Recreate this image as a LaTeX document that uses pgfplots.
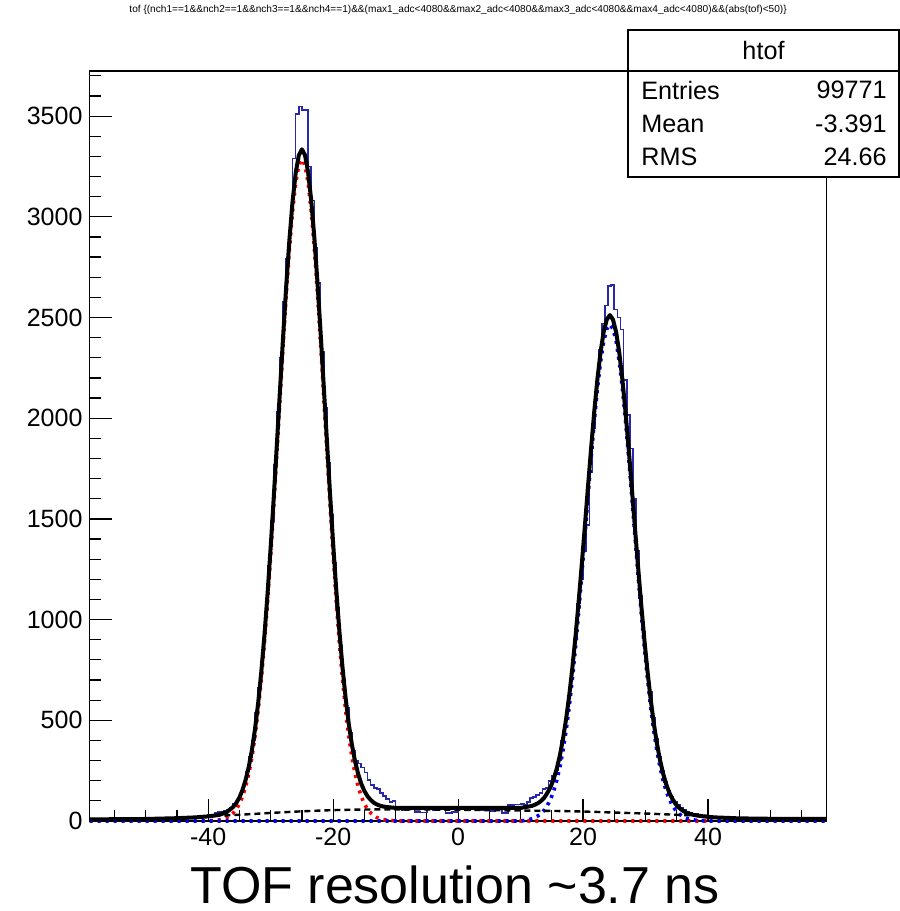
\documentclass[border=0pt]{standalone}
\usepackage{pgfplots}
\pgfplotsset{compat=1.18}
\usepackage{fontspec}
\setmainfont{Liberation Sans}
\definecolor{histblue}{RGB}{40,40,170}
\definecolor{rootred}{RGB}{255,0,0}
\definecolor{rootblue}{RGB}{0,0,255}
\begin{document}
\begin{tikzpicture}
\begin{axis}[
 scale only axis, width=368.6pt, height=375pt,
 xmin=-59, xmax=59, ymin=0, ymax=3724,
 xtick={-40,-20,0,20,40},
 minor xtick={-55,-50,...,55},
 ytick={0,500,...,3500},
 minor ytick={100,200,...,3700},
 tick pos=left, tick align=inside,
 major tick length=11pt, minor tick length=5.5pt,
 every tick/.style={black, line width=0.6pt},
 axis line style={line width=0.6pt},
 /pgf/number format/assume math mode=true,
 /pgf/number format/1000 sep={},
 ticklabel style={font=\fontsize{12.5}{15}\selectfont},
 clip=false,
]
% histogram htof
\addplot[const plot, histblue, line width=0.8pt] coordinates {
(-59,6)(-58,4)(-57,7)(-56,5)(-55,8)(-54,6)(-53,9)(-52,7)(-51,10)(-50,8)(-49,11)(-48,9)(-47,12)(-46,14)(-45,13)(-44,16)(-43,18)(-42,22)(-41,28)
(-40,30)(-39.5,33)(-39,40)(-38.5,44)(-38,47)(-37.5,50)(-37,58)(-36.5,68)(-36,85)(-35.5,101)(-35,132)(-34.5,178)(-34,245)(-33.5,318)(-33,400)(-32.5,536)(-32,662)(-31.5,848)(-31,1030)(-30.5,1265)(-30,1490)(-29.5,1770)(-29,2030)(-28.5,2300)(-28,2580)(-27.5,2790)(-27,2990)(-26.5,3290)(-26,3510)(-25.5,3547)(-25,3530)(-24.5,3530)(-24,3250)(-23.5,3080)(-23,2845)(-22.5,2670)(-22,2330)(-21.5,2050)(-21,1780)(-20.5,1520)(-20,1280)(-19.5,1060)(-19,870)(-18.5,700)(-18,560)(-17.5,440)(-17,350)(-16.5,300)(-16,285)(-15.5,265)(-15,240)(-14.5,205)(-14,180)(-13.5,165)(-13,160)(-12.5,140)(-12,125)(-11.5,110)(-11,95)(-10.5,100)
(-10,60)(-9,55)(-8,60)(-7,45)(-6,42)(-5,58)(-4,55)(-3,60)(-2,40)(-1,45)(0,58)(1,55)(2,60)(3,52)(4,55)(5,50)(6,58)(7,40)(8,80)(9,82)
(10,85)(10.5,80)(11,95)(11.5,115)(12,120)(12.5,130)(13,140)(13.5,160)(14,165)(14.5,200)(15,225)(15.5,250)(16,300)(16.5,400)(17,500)(17.5,610)(18,750)(18.5,905)(19,1080)(19.5,1200)(20,1340)(20.5,1470)(21,1730)(21.5,1950)(22,2160)(22.5,2340)(23,2470)(23.5,2560)(24,2655)(24.5,2660)(25,2540)(25.5,2500)(26,2440)(26.5,2190)(27,2016)(27.5,1850)(28,1600)(28.5,1340)(29,1120)(29.5,940)(30,780)(30.5,640)(31,510)(31.5,410)(32,320)(32.5,250)(33,195)(33.5,150)(34,120)(34.5,95)(35,78)(35.5,65)(36,55)(36.5,48)(37,42)(37.5,38)(38,35)(38.5,32)(39,28)(39.5,25)
(40,18)(41,15)(42,14)(43,12)(44,10)(45,11)(46,9)(47,8)(48,9)(49,7)(50,6)(51,7)(52,5)(53,6)(54,4)(55,5)(56,4)(57,3)(58,4)(59,4)
};
% left gaussian
\addplot[rootred, line width=1.8pt, dash pattern=on 1.5pt off 2.5pt] coordinates {
(-41,0)(-40,1)(-39,3)(-38,7)(-37,17)(-36,40)(-35.5,59)(-35,85)(-34.5,122)(-34,171)(-33.5,235)(-33,317)(-32.5,421)(-32,549)(-31.5,702)(-31,882)(-30.5,1088)(-30,1318)(-29.5,1568)(-29,1831)(-28.5,2100)(-28,2365)(-27.5,2615)(-27,2838)(-26.5,3026)(-26,3167)(-25.5,3255)(-25,3285)(-24.5,3255)(-24,3167)(-23.5,3026)(-23,2838)(-22.5,2615)(-22,2365)(-21.5,2100)(-21,1831)(-20.5,1568)(-20,1318)(-19.5,1088)(-19,882)(-18.5,702)(-18,549)(-17.5,421)(-17,317)(-16.5,235)(-16,171)(-15.5,122)(-15,85)(-14.5,59)(-14,40)(-13,17)(-12,7)(-11,3)(-10,1)(-9,0)(40,0)
};
% right gaussian
\addplot[rootblue, line width=1.8pt, dash pattern=on 1.5pt off 2.5pt] coordinates {
(-59,0)(10,0)(10.3,1)(11.3,7)(11.8,11)(12.3,17)(12.8,26)(13.3,37)(13.8,54)(14.3,78)(14.8,108)(15.3,149)(15.8,202)(16.3,269)(16.8,352)(17.3,452)(17.8,571)(18.3,709)(18.8,865)(19.3,1037)(19.8,1223)(20.3,1416)(20.8,1613)(21.3,1805)(21.8,1986)(22.3,2146)(22.8,2280)(23.3,2381)(23.8,2443)(24.3,2465)(24.8,2443)(25.3,2381)(25.8,2280)(26.3,2146)(26.8,1986)(27.3,1805)(27.8,1613)(28.3,1416)(28.8,1223)(29.3,1037)(29.8,865)(30.3,709)(30.8,571)(31.3,452)(31.8,352)(32.3,269)(32.8,202)(33.3,149)(33.8,108)(34.3,78)(34.8,54)(35.3,37)(35.8,26)(36.3,17)(36.8,11)(37.3,7)(38.3,3)(39.3,1)(40,0)(59,0)
};
% background
\addplot[black, line width=1.2pt, dash pattern=on 3pt off 2pt, smooth] coordinates {
(-39,25)(-35,31)(-30,40)(-25,48)(-20,54)(-15,57)(-10,58)(-5,57)(0,56)(5,54)(10,52)(15,50)(20,47)(25,42)(30,37)(35,31)(40,25)
};
% total fit
\addplot[black, line width=2pt, line join=round] coordinates {
(-59,8)(-50,10)(-45,14)(-42,18)(-40,23)(-39,27)(-38,33)(-37,45)(-36,70)(-35.5,90)(-35,117)(-34.5,155)(-34,205)(-33.5,270)(-33,353)(-32.5,458)(-32,587)(-31.5,741)(-31,922)(-30.5,1129)(-30,1360)(-29.5,1611)(-29,1875)(-28.5,2145)(-28,2411)(-27.5,2662)(-27,2886)(-26.5,3075)(-26,3217)(-25.5,3305)(-25,3335)(-24.5,3306)(-24,3219)(-23.5,3079)(-23,2892)(-22.5,2670)(-22,2421)(-21.5,2157)(-21,1889)(-20.5,1626)(-20,1377)(-19.5,1147)(-19,942)(-18.5,762)(-18,610)(-17.5,482)(-17,379)(-16.5,297)(-16,234)(-15.5,185)(-15,149)(-14.5,123)(-14,105)(-13.5,91)(-13,82)(-12.5,76)(-12,72)(-11,68)(-10,65)
(10,65)(11.3,72)(11.8,75)(12.3,81)(12.8,89)(13.3,100)(13.8,116)(14.3,140)(14.8,169)(15.3,209)(15.8,261)(16.3,327)(16.8,410)(17.3,509)(17.8,627)(18.3,764)(18.8,919)(19.3,1091)(19.8,1276)(20.3,1468)(20.8,1664)(21.3,1855)(21.8,2036)(22.3,2195)(22.8,2328)(23.3,2429)(23.8,2490)(24.3,2512)(24.8,2489)(25.3,2427)(25.8,2325)(26.3,2191)(26.8,2030)(27.3,1849)(27.8,1656)(28.3,1458)(28.8,1265)(29.3,1078)(29.8,905)(30.3,749)(30.8,610)(31.3,490)(31.8,389)(32.3,305)(32.8,237)(33.3,183)(33.8,141)(34.3,110)(34.8,85)(35.3,67)(35.8,55)(36.3,45)(36.8,38)(37.3,33)(38.3,27)(39.3,23)(41,18)(45,13)(50,11)(59,10)
};
\end{axis}
% title
\node[font=\fontsize{5.05}{6}\selectfont] at (184.3pt,405.5pt) {tof \{(nch1==1\&\&nch2==1\&\&nch3==1\&\&nch4==1)\&\&(max1\_adc<4080\&\&max2\_adc<4080\&\&max3\_adc<4080\&\&max4\_adc<4080)\&\&(abs(tof)<50)\}};
% stats box
\fill[white] (269.25pt,322pt) rectangle (404.75pt,395.5pt);
\draw[line width=0.6pt] (269.25pt,322pt) rectangle (404.75pt,395.5pt);
\draw[line width=0.6pt] (269.25pt,375pt) -- (404.75pt,375pt);
\begin{scope}[font=\fontsize{12.6}{15}\selectfont]
\node at (337pt,385.5pt) {htof};
\node[anchor=west, inner sep=0pt] at (275.75pt,365.5pt) {Entries};
\node[anchor=east, inner sep=0pt] at (398.75pt,365.5pt) {99771};
\node[anchor=west, inner sep=0pt] at (275.75pt,348.5pt) {Mean};
\node[anchor=east, inner sep=0pt] at (398.75pt,348.5pt) {-3.391};
\node[anchor=west, inner sep=0pt] at (275.75pt,332pt) {RMS};
\node[anchor=east, inner sep=0pt] at (398.75pt,332pt) {24.66};
\end{scope}
% x label
\node[anchor=base, font=\fontsize{26}{30}\selectfont] at (182.75pt,-41pt) {TOF resolution \textasciitilde3.7 ns};
\pgfresetboundingbox
\path[use as bounding box] (-44.75pt,-45pt) rectangle (405.25pt,410.5pt);
\end{tikzpicture}
\end{document}
